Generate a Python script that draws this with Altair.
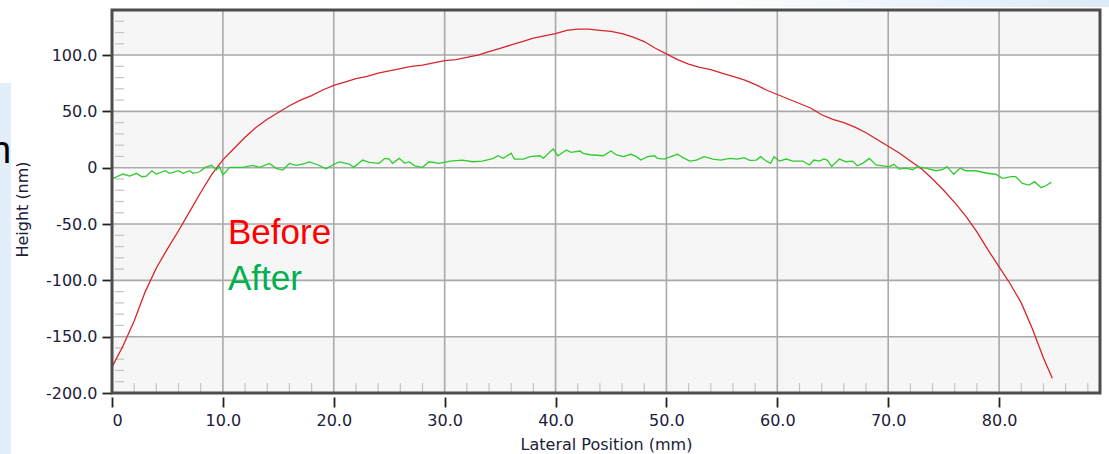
import altair as alt
import pandas as pd

# ---------------- data ----------------
red_x = [0, 1, 2, 3, 4, 5, 6, 7, 8, 9, 10, 11, 12, 13, 14, 15, 16, 17, 18, 19,
         20, 21, 22, 23, 24, 25, 26, 27, 28, 29, 30, 31, 32, 33, 34, 35, 36, 37, 38, 39,
         40, 41, 42, 43, 44, 45, 46, 47, 48, 49, 50, 51, 52, 53, 54, 55, 56, 57, 58, 59,
         60, 61, 62, 63, 64, 65, 66, 67, 68, 69, 70, 71, 72, 73, 74, 75, 76, 77, 78, 79,
         80, 81, 82, 83, 84, 84.8]
red_y = [-177, -158, -136, -110, -89, -72, -56, -39, -22, -6, 7, 17, 27, 36, 43, 49, 55, 60, 64, 69,
         73, 76, 79, 81, 84, 86, 88, 90, 91, 93, 95, 96, 98, 100, 103, 106, 109, 112, 115, 117,
         119, 122, 123, 123, 122, 121, 119, 116, 112, 106, 101, 96, 92, 89, 87, 84, 81, 78, 74, 69,
         65, 61, 57, 53, 47, 43, 40, 36, 31, 25, 19, 13, 6, -1, -10, -20, -31, -43, -57, -73,
         -88, -103, -120, -143, -169, -187]

green_x = [0.1, 1.0, 1.6, 2.2, 2.7, 3.1, 3.6, 4.0, 4.8, 5.2, 6.0, 6.4, 7.0, 7.3, 7.9, 8.4, 9.0, 9.4, 9.7, 10.0,
           10.6, 11.8, 12.7, 13.3, 14.2, 14.8, 15.4, 16.0, 16.6, 17.2, 17.8, 18.6, 19.3, 19.9, 20.5, 21.1, 21.4, 21.8, 22.6, 23.2,
           24.1, 24.6, 25.0, 25.3, 25.9, 26.4, 26.8, 27.3, 28.0, 28.6, 29.5, 30.5, 31.6, 32.5, 33.4, 34.4, 34.8, 35.3, 36.0, 36.3,
           37.1, 37.7, 38.6, 38.9, 39.5, 39.8, 40.2, 41.0, 41.4, 42.2, 42.5, 43.1, 44.3, 45.0, 45.5, 46.1, 46.8, 47.3, 47.7, 48.3,
           48.9, 49.2, 49.8, 50.4, 51.0, 51.5, 52.1, 52.7, 53.4, 54.2, 54.9, 55.7, 56.4, 57.0, 57.5, 58.1, 58.5, 59.0, 59.4, 59.7,
           60.2, 60.8, 61.4, 62.3, 62.9, 63.3, 63.8, 64.2, 64.5, 64.9, 65.6, 66.2, 66.8, 67.2, 67.7, 68.3, 68.9, 69.5, 70.1, 70.5,
           71.0, 71.6, 72.2, 72.6, 73.4, 74.3, 74.9, 75.3, 75.9, 76.5, 77.0, 77.9, 78.8, 79.7, 80.3, 81.1, 81.5, 82.1, 82.7, 83.2,
           83.8, 84.2, 84.7]
green_y = [-9.4, -5.6, -7.4, -5.0, -8.0, -7.4, -2.7, -5.6, -2.7, -5.0, -2.7, -5.0, -2.7, -5.0, -3.6, 0.3, 2.1, -2.1, 0.9, -6.5,
           0.3, 0.3, 2.1, 0.3, 3.8, -0.6, -2.1, 3.8, 2.1, 3.2, 5.1, 2.4, -0.9, 2.4, 5.1, 3.8, 3.2, 0.3, 6.8, 4.8,
           3.9, 8.3, 7.7, 3.9, 8.3, 3.9, 5.3, 1.7, 0.3, 5.3, 3.9, 5.9, 6.8, 5.3, 5.9, 8.3, 10.6, 8.3, 12.8, 7.7,
           7.7, 9.8, 10.6, 8.3, 14.2, 16.6, 10.6, 15.7, 13.7, 14.8, 12.8, 11.5, 10.6, 14.8, 11.3, 9.8, 11.9, 9.8, 6.8, 9.8,
           10.6, 8.3, 7.7, 9.8, 11.9, 8.9, 5.9, 6.8, 9.8, 7.7, 6.8, 8.3, 7.7, 8.9, 6.5, 6.8, 9.8, 5.9, 3.9, 9.8,
           5.9, 7.7, 5.9, 5.9, 2.4, 6.8, 5.9, 7.7, 6.8, 1.0, 7.7, 5.3, 5.9, 1.7, 3.9, 8.3, 2.4, 1.7, 0.9, 3.0,
           -1.2, -0.3, -1.8, 0.9, -0.3, -2.7, -1.8, 0.9, -5.8, -0.3, -2.7, -2.7, -4.7, -5.8, -9.4, -8.0, -8.0, -13.9, -15.4, -12.4,
           -17.7, -16.0, -13.0]

series_names = ["Before", "After"]
series_colors = ["#d6262b", "#2fcc2f"]
legend_colors = ["#ff0000", "#00b050"]

x_ticks = [0, 10, 20, 30, 40, 50, 60, 70, 80]
y_ticks = [-200, -150, -100, -50, 0, 50, 100]
grid_x = [10, 20, 30, 40, 50, 60, 70, 80]
grid_y = [-150, -100, -50, 0, 50, 100]
band_lo = [-200, -100, 0, 100]
band_hi = [-150, -50, 50, 140]
minor_y = [-190, -180, -170, -160, -140, -130, -120, -110, -90, -80, -70, -60,
           -40, -30, -20, -10, 10, 20, 30, 40, 60, 70, 80, 90, 110, 120, 130]
minor_x = [2, 4, 6, 8, 12, 14, 16, 18, 22, 24, 26, 28, 32, 34, 36, 38, 42, 44, 46, 48,
           52, 54, 56, 58, 62, 64, 66, 68, 72, 74, 76, 78, 82, 84, 86, 88]

# ---------------- layout ----------------
W, H = 988, 383
xs = alt.Scale(domain=[0, 89.1], nice=False, zero=False)
ys = alt.Scale(domain=[-200, 140], nice=False, zero=False)
FONT = "DejaVu Sans"
label_expr = ("datum.value == 0 ? '0' : "
              "(datum.value < 0 ? '-' : '') + format(abs(datum.value), '.1f')")

x_axis = alt.Axis(values=x_ticks, labelExpr=label_expr, title="Lateral Position (mm)",
                  offset=4, labelPadding=5, titleBaseline="alphabetic", titleY=52)
y_axis = alt.Axis(values=y_ticks, labelExpr=label_expr, title="Height (nm)",
                  labelPadding=5, titleX=-82, titleY=199)

lines_df = pd.concat([
    pd.DataFrame({"x": red_x, "y": red_y, "series": series_names[0]}),
    pd.DataFrame({"x": green_x, "y": green_y, "series": series_names[1]}),
])

bands = alt.Chart(pd.DataFrame({"lo": band_lo, "hi": band_hi})).mark_rect(
    color="#f6f6f6").encode(
    x=alt.value(0), x2=alt.value(W),
    y=alt.Y("lo:Q", scale=ys, axis=y_axis), y2="hi:Q")

vgrid = alt.Chart(pd.DataFrame({"v": grid_x})).mark_rule(
    color="#a9a9a9", strokeWidth=1.6).encode(x=alt.X("v:Q", scale=xs, axis=x_axis))
hgrid = alt.Chart(pd.DataFrame({"v": grid_y})).mark_rule(
    color="#a9a9a9", strokeWidth=1.6).encode(y=alt.Y("v:Q", scale=ys, axis=y_axis))

yminor = alt.Chart(pd.DataFrame({"v": minor_y})).mark_rule(
    color="#c4c4c4", strokeWidth=1.2).encode(
    y=alt.Y("v:Q", scale=ys, axis=y_axis), x=alt.value(3), x2=alt.value(12))
xminor = alt.Chart(pd.DataFrame({"v": minor_x})).mark_rule(
    color="#c4c4c4", strokeWidth=1.2).encode(
    x=alt.X("v:Q", scale=xs, axis=x_axis), y=alt.value(H - 10), y2=alt.value(H - 1))

lines = alt.Chart(lines_df).mark_line(strokeWidth=1.3).encode(
    x=alt.X("x:Q", scale=xs, axis=x_axis),
    y=alt.Y("y:Q", scale=ys, axis=y_axis),
    color=alt.Color("series:N", scale=alt.Scale(domain=series_names, range=series_colors),
                    legend=None),
    detail="series:N",
    order="x:Q",
)

# plot frame drawn above the bands
frame = alt.Chart(pd.DataFrame({"a": [0]})).mark_rect(
    filled=False, stroke="#4d4d4d", strokeWidth=3).encode(
    x=alt.value(0), x2=alt.value(W), y=alt.value(0), y2=alt.value(H))

before_txt = alt.Chart(pd.DataFrame({"t": [series_names[0]]})).mark_text(
    font="Liberation Sans", fontSize=35, align="left", baseline="alphabetic",
    color=legend_colors[0]).encode(text="t:N", x=alt.value(116), y=alt.value(234))
after_txt = alt.Chart(pd.DataFrame({"t": [series_names[1]]})).mark_text(
    font="Liberation Sans", fontSize=35, align="left", baseline="alphabetic",
    color=legend_colors[1]).encode(text="t:N", x=alt.value(116), y=alt.value(280))

# slide decorations visible around the chart
side_strip = alt.Chart(pd.DataFrame({"a": [0]})).mark_rect(color="#e2effa").encode(
    x=alt.value(-112), x2=alt.value(-101), y=alt.value(73), y2=alt.value(444))
top_strip = alt.Chart(pd.DataFrame({"a": [0]})).mark_rect(
    color=alt.Gradient(gradient="linear",
                       stops=[alt.GradientStop(color="#ffffff", offset=0),
                              alt.GradientStop(color="#dcebf8", offset=1)],
                       x1=0, x2=1, y1=0, y2=0)).encode(
    x=alt.value(560), x2=alt.value(997), y=alt.value(-10), y2=alt.value(-3))
stray = alt.Chart(pd.DataFrame({"t": ["n"]})).mark_text(
    font="Liberation Sans", fontSize=38, align="left", baseline="alphabetic",
    color="#000000").encode(text="t:N", x=alt.value(-122), y=alt.value(153))

chart = alt.layer(
    bands, vgrid, hgrid, yminor, xminor, lines, frame, before_txt, after_txt,
    side_strip, top_strip, stray
).properties(
    width=W, height=H,
    autosize=alt.AutoSizeParams(type="none"),
    padding={"left": 112, "top": 10, "right": 9, "bottom": 61},
    background="white",
).configure_view(
    stroke=None
).configure_axis(
    labelFont=FONT, labelFontSize=16, labelColor="#20203a",
    titleFont=FONT, titleFontSize=16, titleColor="#20203a", titleFontWeight="normal",
    tickColor="#222222", tickWidth=1.8, tickSize=10,
    domain=False, grid=False,
)

chart.save("out.html", embed_options={"renderer": "svg", "actions": False})
